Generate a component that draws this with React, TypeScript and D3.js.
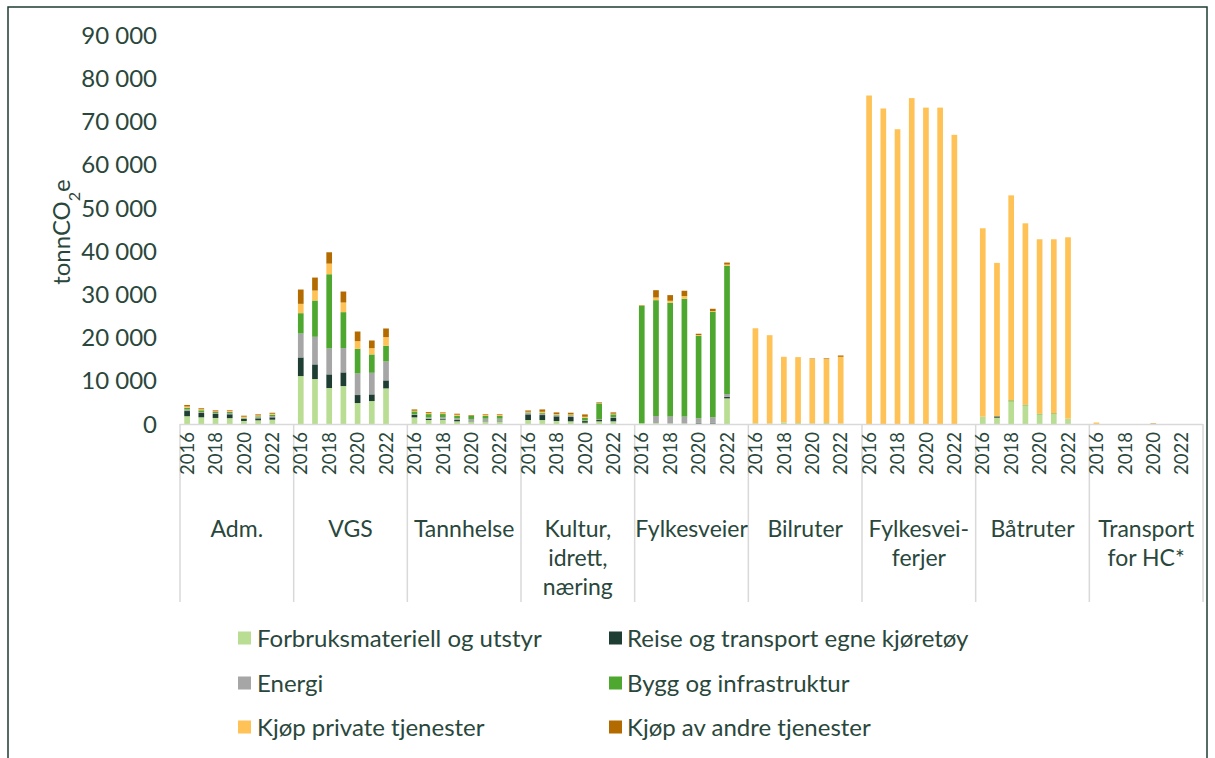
import React from "react";
import * as d3 from "d3";

const groups: string[][] = [
  ["Adm."],
  ["VGS"],
  ["Tannhelse"],
  ["Kultur,", "idrett,", "næring"],
  ["Fylkesveier"],
  ["Bilruter"],
  ["Fylkesvei-", "ferjer"],
  ["Båtruter"],
  ["Transport", "for HC*"],
];
const years = ["2016", "2017", "2018", "2019", "2020", "2021", "2022"];
const yearLabels = ["2016", "2018", "2020", "2022"];
const yTicks = [0, 10000, 20000, 30000, 40000, 50000, 60000, 70000, 80000, 90000];

const seriesNames = [
  "Forbruksmateriell og utstyr",
  "Reise og transport egne kjøretøy",
  "Energi",
  "Bygg og infrastruktur",
  "Kjøp private tjenester",
  "Kjøp av andre tjenester",
];
const seriesColors = ["#badd94", "#1e3d33", "#a6a6a6", "#4ea72e", "#ffc256", "#b36b00"];

// values per group (Adm, VGS, Tannhelse, Kultur, Fylkesveier, Bilruter, Ferjer, Båtruter, HC), years 2016-2022
const forbruk = [
  1800, 1550, 1400, 1350, 700, 850, 1000,
  11090, 10400, 8320, 8780, 4850, 5310, 8240,
  1540, 920, 1000, 620, 460, 540, 620,
  920, 920, 690, 620, 300, 620, 620,
  150, 230, 100, 100, 100, 100, 5930,
  150, 150, 380, 230, 150, 230, 100,
  0, 0, 0, 0, 0, 0, 0,
  1690, 1460, 5240, 4310, 2230, 2310, 1230,
  0, 0, 0, 0, 0, 0, 0,
];
const reise = [
  1200, 1000, 920, 900, 460, 460, 540,
  4310, 3390, 3160, 3160, 1850, 1540, 1850,
  540, 300, 230, 300, 80, 80, 80,
  1310, 1150, 1080, 1000, 380, 300, 770,
  0, 0, 0, 0, 150, 150, 380,
  0, 0, 0, 0, 0, 0, 0,
  0, 0, 0, 0, 0, 0, 0,
  0, 310, 0, 0, 0, 0, 0,
  0, 0, 0, 0, 0, 0, 0,
];
const energi = [
  350, 230, 230, 300, 150, 230, 300,
  5540, 6390, 6000, 5620, 5000, 5000, 4390,
  150, 300, 380, 380, 620, 620, 540,
  300, 300, 230, 230, 150, 230, 230,
  0, 1620, 1620, 1620, 1080, 1310, 620,
  0, 0, 0, 0, 0, 0, 0,
  0, 0, 0, 0, 0, 0, 0,
  0, 0, 0, 0, 0, 0, 0,
  0, 0, 0, 0, 0, 0, 0,
];
const bygg = [
  400, 400, 230, 250, 150, 230, 300,
  4700, 8390, 17170, 8320, 5700, 4240, 3620,
  690, 770, 690, 620, 690, 620, 620,
  150, 230, 150, 150, 620, 3620, 620,
  27200, 26800, 26330, 27260, 19100, 24410, 29660,
  0, 0, 0, 0, 0, 0, 0,
  0, 0, 0, 0, 0, 0, 0,
  0, 0, 230, 150, 150, 150, 0,
  0, 0, 0, 0, 0, 0, 0,
];
const privat = [
  300, 230, 150, 250, 230, 230, 230,
  2160, 2310, 2460, 2230, 1770, 1460, 2000,
  150, 230, 230, 230, 80, 230, 230,
  150, 230, 150, 230, 230, 80, 150,
  100, 620, 460, 620, 150, 150, 300,
  22000, 20400, 15170, 15250, 14900, 14800, 15450,
  76000, 73000, 68200, 75400, 73200, 73200, 66900,
  43590, 35500, 47430, 41970, 40360, 40280, 41970,
  350, 0, 0, 0, 100, 0, 0,
];
const andre = [
  350, 230, 230, 150, 230, 230, 230,
  3310, 3000, 2620, 2540, 2230, 1770, 2000,
  300, 230, 150, 230, 150, 150, 150,
  300, 540, 380, 380, 540, 150, 300,
  80, 1690, 1310, 1230, 300, 540, 460,
  0, 0, 0, 0, 100, 150, 300,
  0, 0, 0, 0, 0, 0, 0,
  0, 0, 0, 0, 0, 0, 0,
  0, 0, 0, 0, 80, 0, 0,
];

const seriesValues = [forbruk, reise, energi, bygg, privat, andre];
const keys = ["s0", "s1", "s2", "s3", "s4", "s5"];

const TEXT = "#2a473c";
const FONT = "Lato, 'Open Sans', sans-serif";

export default function App() {
  const slotsPerGroup = 8;
  const left = 180;
  const right = 1203;
  const yBase = 424;

  const slotKeys: string[] = [];
  groups.forEach((_, g) => {
    for (let s = 0; s < slotsPerGroup; s++) slotKeys.push(`${g}-${s}`);
  });

  const x = d3
    .scaleBand<string>()
    .domain(slotKeys)
    .range([left, right])
    .paddingInner(0.6)
    .paddingOuter(0.3);
  const step = x.step();
  const groupStart = (g: number) => (x(`${g}-0`) as number) - step * 0.3;

  const y = d3.scaleLinear().domain([0, 90000]).range([yBase, 35]);

  const rows: any[] = [];
  groups.forEach((_, g) => {
    years.forEach((yr, i) => {
      const row: any = { key: `${g}-${i}` };
      keys.forEach((k, si) => (row[k] = seriesValues[si][g * years.length + i]));
      rows.push(row);
    });
  });
  const stacked = d3.stack<any>().keys(keys)(rows);

  const locale = d3.formatLocale({
    decimal: ",",
    thousands: " ",
    grouping: [3],
    currency: ["", ""],
  });
  const fmt = locale.format(",d");

  const legendRows = [638, 683, 727];
  const legendCols = [{ sq: 238, tx: 257 }, { sq: 609, tx: 627 }];

  return (
    <svg
      width={1215}
      height={758}
      style={{ position: "absolute", left: 0, top: 0, display: "block", background: "#fff" }}
      fontFamily={FONT}
    >
      <rect x={8} y={7} width={1199} height={760} fill="#fff" stroke="#1e3d33" strokeWidth={1.5} />

      {/* bars */}
      {stacked.map((layer, si) => (
        <g key={si} fill={seriesColors[si]}>
          {layer.map((d: any, i: number) => {
            const h = y(d[0]) - y(d[1]);
            if (h <= 0) return null;
            return (
              <rect
                key={i}
                x={x(d.data.key)}
                y={y(d[1])}
                width={x.bandwidth()}
                height={h}
              />
            );
          })}
        </g>
      ))}

      {/* y ticks */}
      {yTicks.map((t) => (
        <text
          key={t}
          x={157}
          y={y(t)}
          dy="0.36em"
          textAnchor="end"
          fontSize={24}
          fill={TEXT}
        >
          {fmt(t)}
        </text>
      ))}

      {/* y title */}
      <text transform="translate(70,232) rotate(-90)" textAnchor="middle" fontSize={24} fill={TEXT}>
        tonnCO
        <tspan baselineShift="sub" fontSize={16}>2</tspan>
        e
      </text>

      {/* category axis */}
      <line x1={left} x2={right} y1={yBase + 0.5} y2={yBase + 0.5} stroke="#d9d9d9" strokeWidth={1.5} />
      {d3.range(groups.length + 1).map((g) => {
        const gx = g < groups.length ? groupStart(g) : right;
        return (
          <line key={g} x1={gx} x2={gx} y1={yBase} y2={602} stroke="#d9d9d9" strokeWidth={1.5} />
        );
      })}

      {groups.map((lines, g) => (
        <g key={g}>
          {yearLabels.map((yl) => {
            const idx = years.indexOf(yl);
            const cx = (x(`${g}-${idx}`) as number) + x.bandwidth() / 2;
            return (
              <text
                key={yl}
                transform={`translate(${cx},432) rotate(-90)`}
                textAnchor="end"
                dy="0.36em"
                fontSize={18.5}
                fill={TEXT}
              >
                {yl}
              </text>
            );
          })}
          {lines.map((ln, li) => (
            <text
              key={li}
              x={groupStart(g) + (step * slotsPerGroup) / 2}
              y={529 + li * 29}
              dy="0.36em"
              textAnchor="middle"
              fontSize={23}
              fill={TEXT}
            >
              {ln}
            </text>
          ))}
        </g>
      ))}

      {/* legend */}
      {seriesNames.map((name, i) => {
        const col = legendCols[i % 2];
        const ry = legendRows[Math.floor(i / 2)];
        return (
          <g key={name}>
            <rect x={col.sq} y={ry - 6.5} width={13} height={13} fill={seriesColors[i]} />
            <text x={col.tx} y={ry} dy="0.36em" fontSize={24} fill={TEXT}>
              {name}
            </text>
          </g>
        );
      })}
    </svg>
  );
}
